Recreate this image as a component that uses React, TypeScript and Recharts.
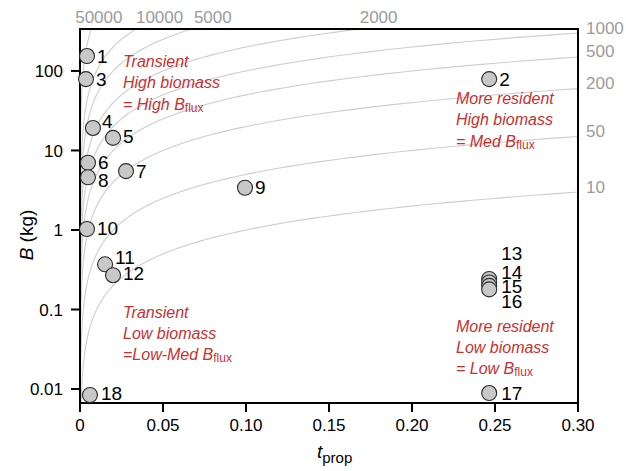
import React from 'react';
import { ComposedChart, Scatter, XAxis, YAxis } from 'recharts';

const FONT = '"Liberation Sans", Arial, Helvetica, sans-serif';

// ---- data ----
const siteIds = ['1', '2', '3', '4', '5', '6', '7', '8', '9', '10', '11', '12', '13', '14', '15', '16', '17', '18'];
const tProp = [0.0042, 0.2465, 0.0036, 0.0078, 0.0199, 0.0048, 0.0277, 0.0048, 0.0994, 0.0042, 0.0151, 0.0199, 0.2465, 0.2465, 0.2465, 0.2465, 0.2465, 0.006];
const biomassKg = [154, 79, 79, 19.2, 14.4, 7.0, 5.5, 4.6, 3.4, 1.03, 0.37, 0.27, 0.242, 0.219, 0.198, 0.179, 0.0089, 0.0084];

// Bflux isolines (B = Bflux * tprop)
const fluxLevels = [50000, 10000, 5000, 2000, 1000, 500, 200, 50, 10];

const xTicks = [0, 0.05, 0.1, 0.15, 0.2, 0.25, 0.3];
const yTicks = [0.01, 0.1, 1, 10, 100];
const X_MAX = 0.3;
const Y_MIN = 0.00667;
const Y_MAX = 337;

// quadrant notes: anchor (t, B) and lines
const noteAnchorsT = [0.0259, 0.2265, 0.0259, 0.2265];
const noteAnchorsB = [130, 44.5, 0.093, 0.062];
const noteLines = [
  ['Transient', 'High biomass', '= High |flux'],
  ['More resident', 'High biomass', '= Med |flux'],
  ['Transient', 'Low biomass', '=Low-Med |flux'],
  ['More resident', 'Low biomass', '= Low |flux'],
];

// ---- layout / label placement style ----
const W = 626;
const H = 471;
const M = { top: 29, right: 48, left: 0, bottom: 0 };
const Y_AXIS_W = 80;
const X_AXIS_H = 68;
const PLOT_W = W - M.left - M.right - Y_AXIS_W;
const PLOT_H = H - M.top - M.bottom - X_AXIS_H;

const idLabelDy = [0, 0, 0, -6, -1, 0, 0, 3, 0, 0, -7, -2, -25, -10, 1, 12, 0, -2];
const idLabelDx = [10, 10, 10, 9, 10, 10, 10, 10, 10, 10, 10, 10, 12, 12, 12, 12, 12, 11];
const fluxLabelDx = [-16, 0, 2, 0];

// ---- derived tables ----
const points = siteIds.map((id, i) => ({ id, t: tProp[i], B: biomassKg[i], dy: idLabelDy[i], dx: idLabelDx[i] }));

const curves = fluxLevels.map((f) => {
  const tLo = Y_MIN / f;
  const tHi = Math.min(X_MAX, Y_MAX / f);
  const n = 160;
  const pts = [] as { t: number; B: number }[];
  for (let k = 0; k < n; k++) {
    const t = tLo * Math.pow(tHi / tLo, k / (n - 1));
    pts.push({ t, B: Math.min(Y_MAX, Math.max(Y_MIN, f * t)) });
  }
  return { f, pts };
});

// top-right corner of the axes' domains: anchor for the plot frame
const frameAnchor = [{ t: X_MAX, B: Y_MAX }];

let topIdx = 0;
const fluxLabels = fluxLevels.map((f) => {
  if (f * X_MAX > Y_MAX) {
    const dx = fluxLabelDx[topIdx++] ?? 0;
    return { t: Y_MAX / f, B: Y_MAX, text: String(f), kind: 'top', dx };
  }
  return { t: X_MAX, B: f * X_MAX, text: String(f), kind: 'right', dx: 0 };
});

const notes = noteLines.map((lines, i) => ({ t: noteAnchorsT[i], B: noteAnchorsB[i], lines }));

// ---- shapes ----
const Empty = () => <g />;

// frame drawn as four filled bars (top, right, bottom, left)
const FrameShape = (props: any) => {
  const { cx, cy } = props;
  const x0 = cx - PLOT_W;
  const y0 = cy;
  return (
    <g>
      <rect x={x0 - 1} y={y0 - 1} width={PLOT_W + 2} height={2} fill="#000" />
      <rect x={cx - 1} y={y0 - 1} width={2} height={PLOT_H + 2} fill="#000" />
      <rect x={x0 - 1} y={y0 + PLOT_H - 1} width={PLOT_W + 2} height={2} fill="#000" />
      <rect x={x0 - 1} y={y0 - 1} width={2} height={PLOT_H + 2} fill="#000" />
    </g>
  );
};

const PointShape = (props: any) => {
  const { cx, cy, payload } = props;
  return (
    <g>
      <circle cx={cx} cy={cy} r={7.5} fill="#c8c8c8" stroke="#2b2b2b" strokeWidth={1.1} />
      <text x={cx + payload.dx} y={cy + payload.dy} dominantBaseline="central" fontSize={19} fill="#000" fontFamily={FONT}>
        {payload.id}
      </text>
    </g>
  );
};

const FluxLabelShape = (props: any) => {
  const { cx, cy, payload } = props;
  if (payload.kind === 'top') {
    return (
      <text x={cx + payload.dx} y={cy - 12} dominantBaseline="central" textAnchor="start" fontSize={17} fill="#9b9b9b" fontFamily={FONT}>
        {payload.text}
      </text>
    );
  }
  return (
    <text x={cx + 8} y={cy - 5} dominantBaseline="central" textAnchor="start" fontSize={17} fill="#9b9b9b" fontFamily={FONT}>
      {payload.text}
    </text>
  );
};

const NOTE_RED = '#c93030';
const NoteShape = (props: any) => {
  const { cx, cy, payload } = props;
  return (
    <g>
      {payload.lines.map((line: string, i: number) => {
        const parts = line.split('|');
        return (
          <text key={i} x={cx} y={cy + i * 21} dominantBaseline="central" fontSize={16} fontStyle="italic" fill={NOTE_RED} fontFamily={FONT}>
            {parts.length > 1 ? (
              <>
                <tspan>{parts[0]}B</tspan>
                <tspan fontSize={12} fontStyle="normal" dy={4}>{parts[1]}</tspan>
              </>
            ) : (
              line
            )}
          </text>
        );
      })}
    </g>
  );
};

const fmtX = (v: number) => (v === 0 ? '0' : v.toFixed(2));
const fmtY = (v: number) => String(v);

const YLabel = (props: any) => {
  const vb = props.viewBox || { x: 0, y: 29, width: 80, height: 374 };
  const cx = vb.x + 26;
  const cy = vb.y + vb.height / 2 + 19;
  return (
    <text x={cx} y={cy} transform={`rotate(-90 ${cx} ${cy})`} textAnchor="middle" dominantBaseline="central" fontSize={19} fill="#000" fontFamily={FONT}>
      <tspan fontStyle="italic">B</tspan>
      <tspan> (kg)</tspan>
    </text>
  );
};

const XLabel = (props: any) => {
  const vb = props.viewBox || { x: 80, y: 403, width: 498, height: 68 };
  const x = vb.x + 237;
  const y = vb.y + 48;
  return (
    <text x={x} y={y} dominantBaseline="central" fontSize={19} fill="#000" fontFamily={FONT}>
      <tspan fontStyle="italic">t</tspan>
      <tspan fontSize={15} dy={6}>prop</tspan>
    </text>
  );
};

const axisStroke = { stroke: '#000', strokeWidth: 2 };

export default function App() {
  return (
    <div style={{ position: 'absolute', left: 0, top: 0, width: W, height: H, background: '#fff' }}>
      <ComposedChart width={W} height={H} margin={M}>
        <XAxis
          type="number"
          dataKey="t"
          domain={[0, X_MAX]}
          ticks={xTicks}
          tickFormatter={fmtX}
          height={X_AXIS_H}
          axisLine={axisStroke}
          tickLine={axisStroke}
          tickSize={9}
          tickMargin={7}
          tick={{ fontSize: 17, fill: '#000', fontFamily: FONT }}
          label={{ content: XLabel }}
        />
        <YAxis
          type="number"
          dataKey="B"
          scale="log"
          domain={[Y_MIN, Y_MAX]}
          ticks={yTicks}
          tickFormatter={fmtY}
          width={Y_AXIS_W}
          axisLine={axisStroke}
          tickLine={axisStroke}
          tickSize={9}
          tickMargin={8}
          tick={{ fontSize: 17, fill: '#000', fontFamily: FONT }}
          label={{ content: YLabel }}
        />
        {curves.map((c) => (
          <Scatter
            key={c.f}
            data={c.pts}
            dataKey="B"
            shape={Empty}
            line={{ stroke: '#cdcdcd', strokeWidth: 1.1 }}
            isAnimationActive={false}
          />
        ))}
        <Scatter key="frame" data={frameAnchor} dataKey="B" shape={FrameShape} isAnimationActive={false} />
        <Scatter key="notes" data={notes} dataKey="B" shape={NoteShape} isAnimationActive={false} />
        <Scatter key="fluxlabels" data={fluxLabels} dataKey="B" shape={FluxLabelShape} isAnimationActive={false} />
        <Scatter key="points" data={points} dataKey="B" shape={PointShape} isAnimationActive={false} />
      </ComposedChart>
    </div>
  );
}
